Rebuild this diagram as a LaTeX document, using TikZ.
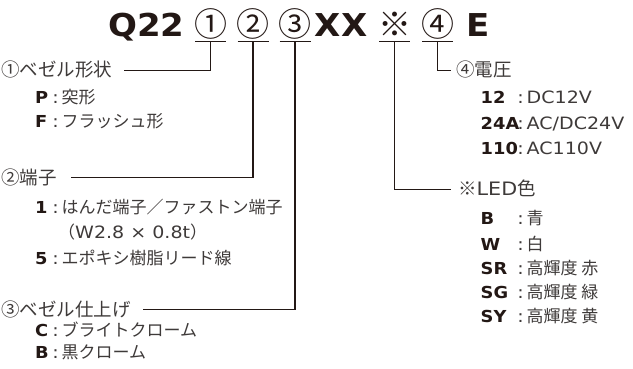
\documentclass[tikz,border=0pt]{standalone}
\usepackage{fontspec}
\setmainfont{Noto Sans CJK JP}
\newfontfamily\keyfont{DejaVu Sans}[FakeStretch=1.08]
\newfontfamily\latinfont{DejaVu Sans}[FakeStretch=1.12]
\definecolor{ink}{HTML}{231815}
\definecolor{txt}{HTML}{3E3A39}
% light latin text inside japanese lines
\newcommand{\lt}[1]{{\latinfont #1}}
% key : text
\newcommand{\spec}[3]{\makebox[#1][l]{\fontsize{16.5}{19}\keyfont\bfseries\color{ink}#2}\makebox[12pt]{\latinfont :}#3}

\begin{document}
\begin{tikzpicture}[
  x=1pt, y=-1pt,
  every node/.style={inner sep=0pt, text=txt, font=\fontsize{17}{20}\selectfont},
  big/.style={anchor=base, text=ink, font=\fontsize{31.5}{34}\selectfont\keyfont\bfseries},
  circled/.style={anchor=base, text depth=4.5pt, text=ink,
    font=\fontsize{33}{36}\selectfont},
  head/.style={anchor=base west, text height=13pt, text depth=0pt,
    font=\fontsize{18.5}{21}\selectfont},
  item/.style={anchor=base west},
  conn/.style={draw=ink, line width=1.1pt}
  ]
\useasboundingbox (0,0) rectangle (633,369);

% Code line
\node[big] (code) at (146.5,37) {Q22};
\node[circled] (c1) at (210.5,37) {①};
\node[circled] (c2) at (253,37) {②};
\node[circled] (c3) at (295,37) {③};
\node[big] (xx) at (341,37) {XX};
\node[circled] (cx) at (394.5,37) {※};
\node[circled] (c4) at (437.5,37) {④};
\node[big] (e) at (478,37) {E};

% Underlines, 31pt wide
\foreach \n in {c1,c2,c3,cx,c4}
  \draw[conn] ([xshift=-15.5pt]\n.south) -- ([xshift=15.5pt]\n.south);

% Left column
\node[head] (bezel) at (1,77) {①ベゼル形状};
\node[item] (pb) at (35,103) {\spec{14.5pt}{P}{突形}};
\node[item] (fb) at (35,128) {\spec{14.5pt}{F}{フラッシュ形}};

\node[head] (term) at (1,184) {②端子};
\node[item] (t1) at (35,213) {\spec{14.5pt}{1}{はんだ端子／ファストン端子}};
\node[item] (t1w) at (58,238.5) {（\lt{W2.8 × 0.8t}）};
\node[item] (t5) at (35,264) {\spec{14.5pt}{5}{エポキシ樹脂リード線}};

\node[head] (finish) at (1,316) {③ベゼル仕上げ};
\node[item] (fc) at (35,336.5) {\spec{14.5pt}{C}{ブライトクローム}};
\node[item] (fk) at (35,358.5) {\spec{14.5pt}{B}{黒クローム}};

% Right column
\node[head] (volt) at (456,77) {④電圧};
\node[item] (v12) at (480.5,103) {\spec{34pt}{12}{\lt{DC12V}}};
\node[item] (v24) at (480.5,129.5) {\spec{34pt}{24A}{\lt{AC/DC24V}}};
\node[item] (v110) at (480.5,155) {\spec{34pt}{110}{\lt{AC110V}}};

\node[head] (led) at (458,196) {※\lt{LED}色};
\node[item] (lb) at (480.5,225) {\spec{34pt}{B}{青}};
\node[item] (lw) at (480.5,250) {\spec{34pt}{W}{白}};
\node[item] (lsr) at (480.5,274.5) {\spec{34pt}{SR}{高輝度 赤}};
\node[item] (lsg) at (480.5,298) {\spec{34pt}{SG}{高輝度 緑}};
\node[item] (lsy) at (480.5,322) {\spec{34pt}{SY}{高輝度 黄}};

% Connectors
\draw[conn, shorten >=12pt] (c1.south) |- (bezel.east);
\draw[conn, shorten >=14pt] (c2.south) |- (term.east);
\draw[conn, shorten >=12pt] (c3.south) |- (finish.east);
\draw[conn, shorten >=7pt] (cx.south) |- (led.west);
\draw[conn, shorten >=5pt] (c4.south) |- (volt.west);

\end{tikzpicture}
\end{document}
